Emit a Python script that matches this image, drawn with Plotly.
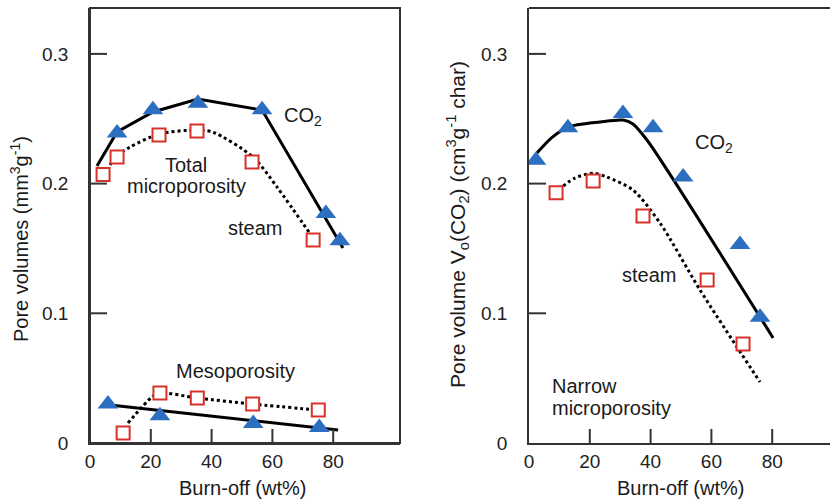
import plotly.graph_objects as go

# ---------------- data ----------------
# Left panel: total microporosity
co2_micro_x = [8.9, 20.7, 35.5, 56.6, 77.6, 82.2]
co2_micro_y = [0.239, 0.257, 0.262, 0.257, 0.177, 0.156]
steam_micro_x = [4.3, 8.9, 22.7, 35.2, 53.3, 73.4]
steam_micro_y = [0.207, 0.2205, 0.2375, 0.2405, 0.2167, 0.1565]
co2_micro_fit_x = [2.3, 8.9, 20.7, 35.5, 56.6, 83.2]
co2_micro_fit_y = [0.2136, 0.2398, 0.2552, 0.2652, 0.2567, 0.1503]
steam_micro_fit_x = [4.3, 8.9, 13.2, 22.7, 35.2, 40.5, 53.6, 61.5, 73.4]
steam_micro_fit_y = [0.2066, 0.2213, 0.2282, 0.2382, 0.2413, 0.2396, 0.2205, 0.1974, 0.158]

# Left panel: mesoporosity
co2_meso_x = [5.9, 23.0, 53.7, 75.4]
co2_meso_y = [0.030, 0.021, 0.015, 0.012]
steam_meso_x = [10.9, 23.0, 35.3, 53.5, 75.1]
steam_meso_y = [0.0077, 0.0386, 0.0347, 0.030, 0.0255]
co2_meso_fit_x = [6.6, 81.6]
co2_meso_fit_y = [0.0293, 0.010]
steam_meso_fit_x = [12.5, 20.4, 23.0, 35.3, 53.6, 75.0]
steam_meso_fit_y = [0.0154, 0.0355, 0.0386, 0.0347, 0.030, 0.0255]

# Right panel: narrow microporosity
co2_narrow_x = [2.3, 12.8, 30.9, 40.8, 50.7, 69.4, 76.0]
co2_narrow_y = [0.218, 0.243, 0.254, 0.243, 0.205, 0.153, 0.097]
steam_narrow_x = [8.9, 21.1, 37.5, 58.6, 70.4]
steam_narrow_y = [0.193, 0.202, 0.175, 0.1257, 0.0763]
co2_narrow_fit_x = [2.6, 7.5, 12.8, 23.4, 30.9, 34.2, 38.8, 49.7, 80.3]
co2_narrow_fit_y = [0.2236, 0.2355, 0.2436, 0.2475, 0.249, 0.246, 0.2336, 0.195, 0.081]
steam_narrow_fit_x = [11.2, 15.1, 21.05, 25.7, 34.2, 43.1, 56.25, 76.0]
steam_narrow_fit_y = [0.198, 0.2043, 0.208, 0.205, 0.195, 0.1696, 0.118, 0.047]

x_ticks = [0, 20, 40, 60, 80]
x_tick_labels = ["0", "20", "40", "60", "80"]
y_ticks = [0, 0.1, 0.2, 0.3]
y_tick_labels = ["0", "0.1", "0.2", "0.3"]

# ---------------- styling ----------------
W, H = 830, 499
FONT = "Arial"
BLUE = "#2c6ebf"
RED = "#d7312a"
AX = "#333333"
PAD = "\u00a0\u00a0\u00a0"

fig = go.Figure()


def fit(x, y, xa, ya, dotted, shape="linear"):
    fig.add_trace(go.Scatter(
        x=x, y=y, xaxis=xa, yaxis=ya, mode="lines",
        line=dict(color="black", width=3, dash="dot" if dotted else "solid",
                  shape=shape, smoothing=0.8),
        hoverinfo="skip", showlegend=False))


def tri(x, y, xa, ya):
    fig.add_trace(go.Scatter(
        x=x, y=y, xaxis=xa, yaxis=ya, mode="markers",
        marker=dict(symbol="triangle-up", size=18, color=BLUE, line=dict(width=0)),
        showlegend=False))


def sq(x, y, xa, ya):
    fig.add_trace(go.Scatter(
        x=x, y=y, xaxis=xa, yaxis=ya, mode="markers",
        marker=dict(symbol="square", size=13, color="white",
                    line=dict(color=RED, width=2)),
        showlegend=False))


# left panel
fit(co2_micro_fit_x, co2_micro_fit_y, "x", "y", False)
fit(steam_micro_fit_x, steam_micro_fit_y, "x", "y", True, "spline")
fit(co2_meso_fit_x, co2_meso_fit_y, "x", "y", False)
fit(steam_meso_fit_x, steam_meso_fit_y, "x", "y", True, "spline")
tri(co2_micro_x, co2_micro_y, "x", "y")
sq(steam_micro_x, steam_micro_y, "x", "y")
tri(co2_meso_x, co2_meso_y, "x", "y")
sq(steam_meso_x, steam_meso_y, "x", "y")

# right panel
fit(co2_narrow_fit_x, co2_narrow_fit_y, "x2", "y2", False, "spline")
fit(steam_narrow_fit_x, steam_narrow_fit_y, "x2", "y2", True, "spline")
tri(co2_narrow_x, co2_narrow_y, "x2", "y2")
sq(steam_narrow_x, steam_narrow_y, "x2", "y2")

px_per_x = 3.04
px_per_y = 1297.0
plot_h = 435
left_w, right_w = 310, 301
y_top = plot_h / px_per_y
x1_range = [0, left_w / px_per_x]
x2_range = [0, right_w / px_per_x]

x1_dom = [90 / W, 400 / W]
x2_dom = [529 / W, 1.0]
y_dom = [1 - 443 / H, 1 - 8 / H]

tickfont = dict(family=FONT, size=19, color="#222222")

ann = []


def label(text, x, y, xref, yref, xanchor="center", angle=0, size=20):
    ann.append(dict(text=text, x=x, y=y, xref=xref, yref=yref, xanchor=xanchor,
                    yanchor="middle", showarrow=False, textangle=angle,
                    font=dict(family=FONT, size=size, color="#1a1a1a")))


# left panel labels
label("CO<sub>2</sub>", 63.2, 0.252, "x", "y", "left")
label("Total", 31.6, 0.2145, "x", "y")
label("microporosity", 31.6, 0.1982, "x", "y")
label("steam", 54.3, 0.1658, "x", "y")
label("Mesoporosity", 48.0, 0.0555, "x", "y")
# right panel labels
label("CO<sub>2</sub>", 53.9, 0.2313, "x2", "y2", "left")
label("steam", 39.5, 0.1295, "x2", "y2")
label("Narrow", 6.9, 0.044, "x2", "y2", "left")
label("microporosity", 6.9, 0.027, "x2", "y2", "left")
# axis titles
label("Burn-off (wt%)", 242 / W, 1 - 488 / H, "paper", "paper")
label("Burn-off (wt%)", 680 / W, 1 - 488 / H, "paper", "paper")
label("Pore volumes (mm<sup>3</sup>g<sup>-1</sup>)", 20 / W, 1 - 239 / H, "paper", "paper",
      angle=-90)
label("Pore volume V<sub>o</sub>(CO<sub>2</sub>) (cm<sup>3</sup>g<sup>-1</sup> char)",
      457 / W, 1 - 225 / H, "paper", "paper", angle=-90, size=21)

frame = dict(color=AX, width=2)
shapes = [
    # box around the left panel
    dict(type="rect", xref="x domain", yref="y domain", x0=0, x1=1, y0=0, y1=1,
         line=frame, fillcolor="rgba(0,0,0,0)"),
    # top edge of the right panel (its right edge lies outside the picture)
    dict(type="line", xref="x2 domain", yref="y2 domain", x0=0, x1=1, y0=1, y1=1,
         line=frame),
]

# inward tick marks, placed at the tick values through each axis' scale
XT_LEN, YT_LEN = 14, 17
for xr, yr, width_px in (("x", "y", left_w), ("x2", "y2", right_w)):
    for t in x_ticks:
        if t > 0:
            shapes.append(dict(type="line", xref=xr, yref=yr + " domain",
                               x0=t, x1=t, y0=0, y1=XT_LEN / plot_h, line=frame))
    for t in y_ticks:
        if t > 0:
            shapes.append(dict(type="line", xref=xr + " domain", yref=yr,
                               x0=0, x1=YT_LEN / width_px, y0=t, y1=t, line=frame))


def main_x(dom, rng, anchor):
    return dict(domain=dom, range=rng, anchor=anchor,
                ticks="", tickvals=x_ticks, ticktext=x_tick_labels,
                tickfont=tickfont, showline=True, linecolor=AX, linewidth=2,
                showgrid=False, zeroline=False, automargin=False)


def main_y(anchor):
    return dict(domain=y_dom, range=[0, y_top], anchor=anchor,
                ticks="", tickvals=y_ticks,
                ticktext=[t + PAD for t in y_tick_labels],
                tickfont=tickfont, showline=True, linecolor=AX, linewidth=2,
                showgrid=False, zeroline=False, automargin=False)


fig.update_layout(
    width=W, height=H,
    margin=dict(l=0, r=0, t=0, b=0),
    paper_bgcolor="white", plot_bgcolor="white",
    xaxis=main_x(x1_dom, x1_range, "y"),
    yaxis=main_y("x"),
    xaxis2=main_x(x2_dom, x2_range, "y2"),
    yaxis2=main_y("x2"),
    annotations=ann,
    shapes=shapes,
)

fig.write_html("out.html")
